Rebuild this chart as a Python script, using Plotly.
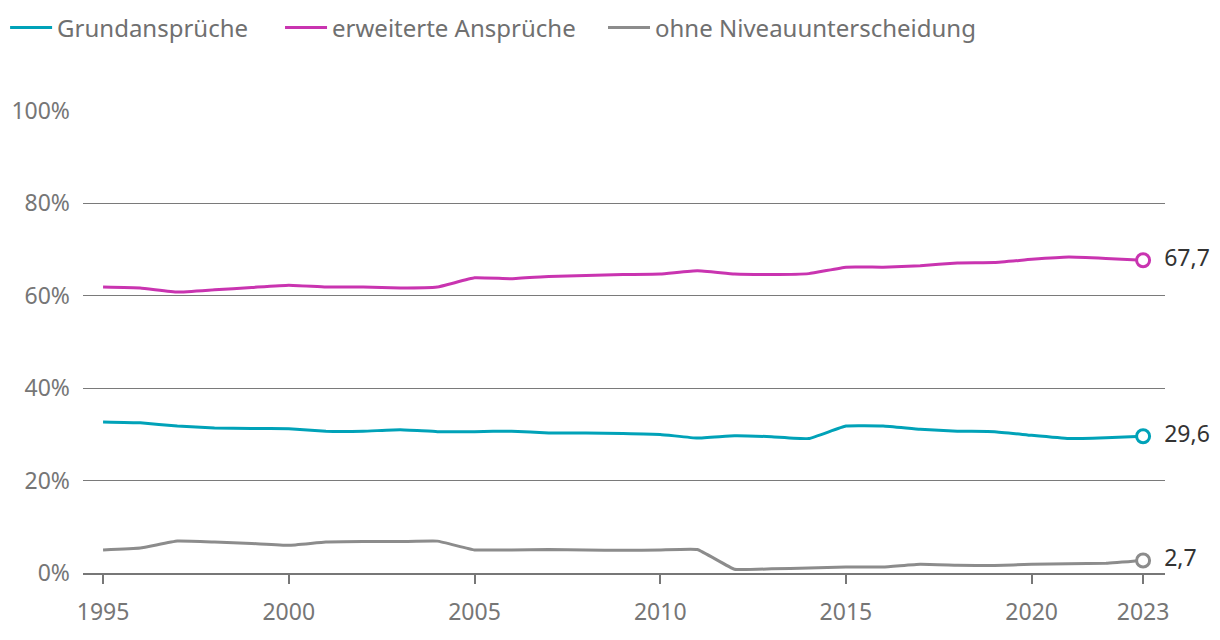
import plotly.graph_objects as go

years = list(range(1995, 2024))
grund = [32.7, 32.5, 31.8, 31.4, 31.3, 31.2, 30.7, 30.7, 31.0, 30.6, 30.6, 30.7, 30.3, 30.3, 30.2,
         30.0, 29.2, 29.7, 29.5, 29.1, 31.8, 31.8, 31.1, 30.7, 30.6, 29.8, 29.1, 29.3, 29.6]
erweitert = [61.9, 61.7, 60.8, 61.3, 61.8, 62.3, 61.9, 61.9, 61.7, 61.9, 63.9, 63.7, 64.2, 64.4, 64.6,
             64.7, 65.4, 64.7, 64.6, 64.8, 66.2, 66.2, 66.5, 67.1, 67.2, 67.9, 68.4, 68.1, 67.7]
ohne = [5.0, 5.4, 6.9, 6.7, 6.4, 6.0, 6.7, 6.8, 6.8, 6.9, 5.0, 5.0, 5.1, 5.0, 4.9,
        5.0, 5.1, 0.8, 0.9, 1.1, 1.3, 1.3, 1.9, 1.7, 1.6, 1.9, 2.0, 2.1, 2.7]

names = ["Grundansprüche", "erweiterte Ansprüche", "ohne Niveauunterscheidung"]
series = [grund, erweitert, ohne]
colors = ["#00A2B8", "#C934B0", "#8C8C8C"]
legend_ids = ["legend", "legend2", "legend3"]
legend_x = [-0.0720, 0.1821, 0.4806]
tickvals_x = [1995, 2000, 2005, 2010, 2015, 2020, 2023]
tickvals_y = [0, 20, 40, 60, 80, 100]
ticktext_y = ["0%", "20%", "40%", "60%", "80%", "100%"]

font = "Noto Sans, Open Sans, sans-serif"
fig = go.Figure()
for name, vals, col, lg in zip(names, series, colors, legend_ids):
    fig.add_trace(go.Scatter(x=years, y=vals, mode="lines", name=name, legend=lg,
                             line=dict(color=col, width=3, shape="spline", smoothing=0.3)))
for name, vals, col in zip(names, series, colors):
    fig.add_trace(go.Scatter(x=[years[-1]], y=[vals[-1]], mode="markers+text", showlegend=False,
                             marker=dict(size=13, color="white", line=dict(color=col, width=3)),
                             text=["  " + f"{vals[-1]:.1f}".replace(".", ",")], textposition="middle right",
                             textfont=dict(size=23, color="#333333", family=font), cliponaxis=False))

legend_common = dict(orientation="h", xanchor="left", y=1.18, yanchor="middle",
                     font=dict(size=24, color="#707070", family=font), itemwidth=42,
                     bgcolor="rgba(0,0,0,0)")
layout_legends = {}
for lg, lx in zip(legend_ids, legend_x):
    layout_legends[lg] = dict(legend_common, x=lx)

fig.update_layout(
    width=1204, height=624,
    margin=dict(l=75, r=47, t=103, b=59, autoexpand=False),
    paper_bgcolor="white", plot_bgcolor="white",
    font=dict(family=font, size=23, color="#767676"),
    showlegend=True,
    xaxis=dict(range=[1994.46, 2023.59], tickvals=tickvals_x, showgrid=False,
               ticks="outside", ticklen=9, tickwidth=2, tickcolor="#777777",
               showline=True, linecolor="#777777", linewidth=2, zeroline=False,
               ticklabelstandoff=8, automargin=False, tickfont=dict(size=23, color="#767676")),
    yaxis=dict(range=[0, 100], tickvals=tickvals_y, ticktext=ticktext_y,
               showgrid=True, gridcolor="#7a7a7a", gridwidth=1.3, zeroline=False,
               ticks="", ticklabelstandoff=12, automargin=False,
               tickfont=dict(size=23, color="#767676")),
    **layout_legends,
)
fig.write_html("out.html")
